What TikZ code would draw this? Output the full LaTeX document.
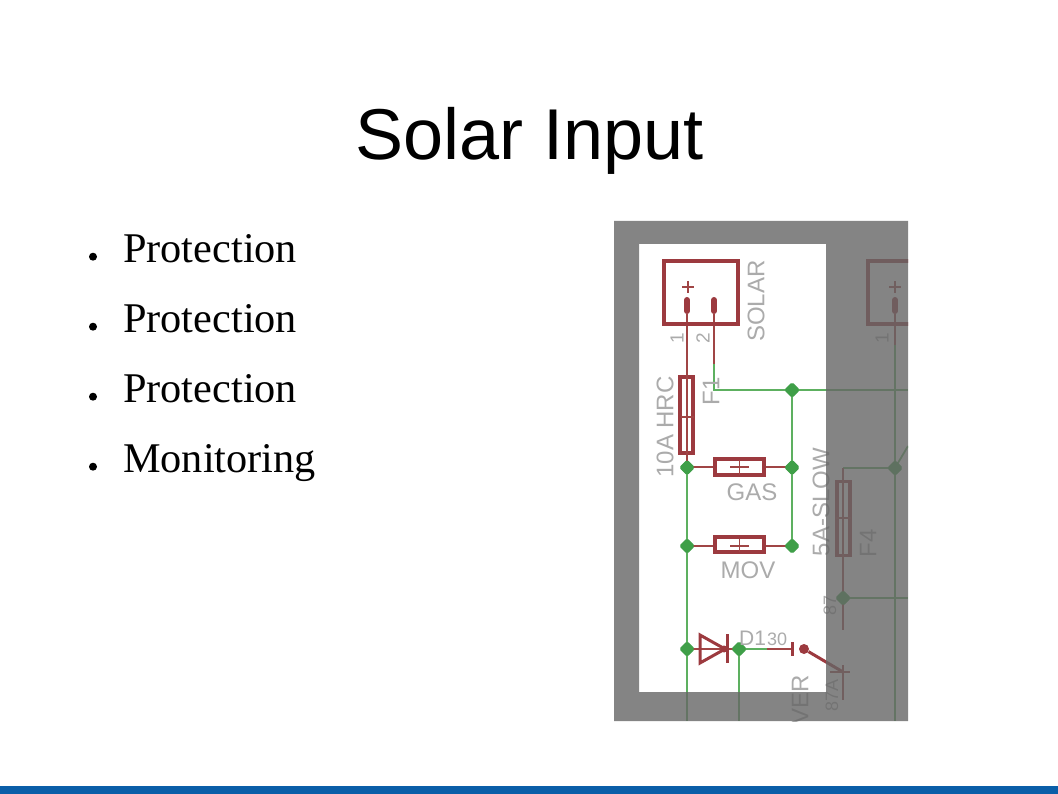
\documentclass[tikz,border=0pt]{standalone}
\usepackage{fontspec}
\setmainfont{Liberation Serif}
\setsansfont{Liberation Sans}
\usetikzlibrary{shapes.geometric}
\definecolor{wirered}{HTML}{A04545}
\definecolor{symred}{HTML}{9C3A3F}
\definecolor{wiregreen}{HTML}{5DB060}
\definecolor{junc}{HTML}{3F9F48}
\definecolor{labelgrey}{HTML}{ABABAB}
\definecolor{maskgrey}{gray}{.4}
\definecolor{barblue}{HTML}{0A5EA8}
\tikzset{
  x=1pt,y=-1pt,
  title/.style={font=\sffamily\fontsize{72}{72}\selectfont,anchor=base,inner sep=0pt},
  item/.style={font=\fontsize{42.3}{42.3}\selectfont,anchor=base west,inner sep=0pt,text=black},
  bulletdot/.style={circle,fill=black,inner sep=0pt,minimum size=8pt},
  grn/.style={draw=wiregreen,line width=1.8pt},
  red/.style={draw=wirered,line width=1.6pt},
  sym/.style={draw=symred,line width=3.8pt,fill=none},
  symthin/.style={draw=symred,line width=3pt},
  jct/.style={diamond,fill=junc,draw=junc,line width=1pt,rounded corners=1.5pt,inner sep=0pt,minimum size=15pt},
  lab/.style={font=\sffamily\fontsize{24}{24}\selectfont,text=labelgrey,inner sep=0pt},
  labsmall/.style={font=\sffamily\fontsize{19}{19}\selectfont,text=labelgrey,inner sep=0pt},
}
\begin{document}
\begin{tikzpicture}
\useasboundingbox (0,0) rectangle (1058,794);
\fill[white] (0,0) rectangle (1058,794);
\fill[barblue] (0,786) rectangle (1058,794);
\node[title] (ttl) at (529.5,160) {Solar Input};
\foreach \n/\y/\t in {a/262.7/Protection,b/332.7/Protection,c/402.7/Protection,d/472.7/Monitoring}{
  \node[bulletdot] (bul\n) at (93,\y-6) {};
  \node[item] (txt\n) at (123,\y) {\t};
}
\begin{scope}
\clip (614,221) rectangle (908,721);
\fill[white] (614,221) rectangle (908,721);
\coordinate (bot1) at (687,721);
\coordinate (bot2) at (739,721);
\coordinate (bot3) at (895,721);
\coordinate (rgt1) at (908,390);
\coordinate (rgt2) at (908,598);
\coordinate (pinA) at (687,314);
\coordinate (pinB) at (714,314);
\coordinate (pinC) at (895,314);
\coordinate (w2turn) at (714,390);
\coordinate (w2mid) at (714,364);
\coordinate (sw) at (767,649);
\coordinate (tick) at (792,649);
\coordinate (f4top) at (843,468);
\coordinate (cntU) at (843,630);
% green wires
\draw[grn] (w2mid) -- (w2turn) -- (rgt1);
\draw[grn] (792,390) -- (792,546);
\draw[grn] (687,468) -- (bot1);
\draw[grn] (739,649) -- (bot2);
\draw[grn] (739,649) -- (sw);
\draw[grn] (843,468) -- (895,468);
\draw[grn] (843,598) -- (rgt2);
\draw[grn] (895,330) -- (bot3);
\draw[grn] (895,468) -- (908,446);
% red wires
\draw[red] (pinA) -- (687,467);
\draw[red] (pinB) -- (w2mid);
\draw[red] (687,467) -- (792,467);
\draw[red] (687,546) -- (792,546);
\draw[red] (687,649) -- (739,649);
\draw[red] (sw) -- (tick);
\draw[red] (f4top) -- (cntU);
\draw[red] (pinC) -- (895,345);
% connector symbols
\node[sym,minimum width=74pt,minimum height=63pt,inner sep=0pt] (solar) at (701,292.5) {};
\node[sym,minimum width=74pt,minimum height=63pt,inner sep=0pt] (solarb) at (905,292.5) {};
\draw[symred,line width=6pt,line cap=round] (687,300) -- (687,311);
\draw[symred,line width=6pt,line cap=round] (714,300) -- (714,311);
\draw[symred,line width=6pt,line cap=round] (895,300) -- (895,311);
\draw[wirered,line width=1.5pt] (682,287) -- (694,287) (688,281) -- (688,293);
\draw[wirered,line width=1.5pt] (889,287) -- (901,287) (895,281) -- (895,293);
% fuses
\node[sym,fill=white,minimum width=13pt,minimum height=76pt,inner sep=0pt] (f1) at (686.5,415) {};
\draw[red] (687,375) -- (687,455);
\draw[wirered,line width=1.2pt] (681,417) -- (694,417);
\node[sym,fill=white,minimum width=13pt,minimum height=74pt,inner sep=0pt] (f4) at (843.5,518.5) {};
\draw[red] (843,480) -- (843,557);
\draw[wirered,line width=1.2pt] (836,518) -- (851,518);
% varistors
\node[sym,fill=white,minimum width=49pt,minimum height=16pt,inner sep=0pt] (gas) at (739.5,467) {};
\draw[wirered,line width=1.5pt] (730,467) -- (749,467) (739.5,460) -- (739.5,475);
\node[sym,fill=white,minimum width=49pt,minimum height=15pt,inner sep=0pt] (mov) at (739.5,544.5) {};
\draw[wirered,line width=1.5pt] (730,546) -- (749,546) (739.5,539) -- (739.5,552);
% diode
\draw[symthin,line join=miter] (700,635) -- (700,663) -- (725,649) -- cycle;
\draw[symthin] (727,634) -- (727,663);
\fill[symred] (724,649) circle (3.5pt);
% switch
\draw[symthin] (792,642) -- (792,656);
\node[circle,fill=symred,inner sep=0pt,minimum size=10pt] (pivot) at (804,649) {};
\coordinate (swend) at (843,672);
\draw[symred,line width=3pt] (pivot) -- (swend);
\draw[wirered,line width=1.6pt] (830,672) -- (850,672) (843,665) -- (843,700);
% junctions
\node[jct] (j1) at (792,390) {};
\node[jct] (j2) at (687,467.5) {};
\node[jct] (j3) at (792,467.5) {};
\node[jct] (j4) at (687,546) {};
\node[jct] (j5) at (792,546) {};
\node[jct] (j6) at (687,649) {};
\node[jct] (j7) at (739,649) {};
\node[jct] (j8) at (895,468) {};
\node[jct] (j9) at (843,598) {};
% labels
\node[lab,rotate=90] (lsolar) at (756,301) {SOLAR};
\node[labsmall,rotate=90] (l1) at (677,338) {1};
\node[labsmall,rotate=90] (l2) at (703,338) {2};
\node[labsmall,rotate=90] (l1b) at (882,338) {1};
\node[lab,rotate=90] (lhrc) at (665,427) {10A HRC};
\node[lab,rotate=90] (lf1) at (711,391) {F1};
\node[lab] (lgas) at (752,492) {GAS};
\node[lab] (lmov) at (748,570) {MOV};
\node[lab,rotate=90] (l5a) at (821,502) {5A-SLOW};
\node[lab,rotate=90] (lf4) at (868,543) {F4};
\node[labsmall,rotate=90,font=\sffamily\fontsize{18}{18}\selectfont] (l87) at (830,605) {87};
\node[labsmall,rotate=90,font=\sffamily\fontsize{18}{18}\selectfont] (l87a) at (832,695) {87A};
\node[lab,anchor=base west,font=\sffamily\fontsize{21}{21}\selectfont] (ld) at (739,645) {D1};
\node[font=\sffamily\fontsize{18}{18}\selectfont,text=labelgrey,inner sep=0pt,anchor=base west] (l30) at (767,645) {30};
\node[lab,rotate=90,anchor=east] (lver) at (800,675) {VER};
% dim mask
\fill[maskgrey,opacity=.8,even odd rule] (614,221) rectangle (908,721) (639,244) rectangle (826,692);
\end{scope}
\end{tikzpicture}
\end{document}
